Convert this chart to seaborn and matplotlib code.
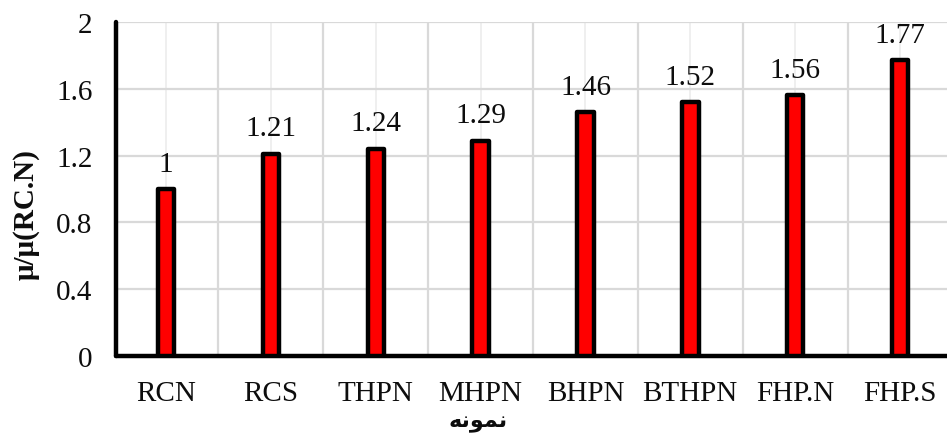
import matplotlib
matplotlib.use("Agg")
import matplotlib.pyplot as plt
import seaborn as sns
import pandas as pd

# Specimen names and normalised values
specimens = ["RCN", "RCS", "THPN", "MHPN", "BHPN", "BTHPN", "FHP.N", "FHP.S"]
ratios = [1.00, 1.21, 1.24, 1.29, 1.46, 1.52, 1.56, 1.77]
ratio_labels = ["1", "1.21", "1.24", "1.29", "1.46", "1.52", "1.56", "1.77"]
y_ticks = [0, 0.4, 0.8, 1.2, 1.6, 2.0]
y_tick_labels = ["0", "0.4", "0.8", "1.2", "1.6", "2"]
y_title = "μ/μ(RC.N)"
x_title = "نمونه"


def shape_arabic(word):
    """Join Arabic letters into their contextual forms, in visual order."""
    # letter: (isolated, final, initial, medial); None = does not join forward
    forms = {
        "ن": ("\uFEE5", "\uFEE6", "\uFEE7", "\uFEE8"),
        "م": ("\uFEE1", "\uFEE2", "\uFEE3", "\uFEE4"),
        "ه": ("\uFEE9", "\uFEEA", "\uFEEB", "\uFEEC"),
        "و": ("\uFEED", "\uFEEE", None, None),
    }
    out = []
    for i, ch in enumerate(word):
        f = forms[ch]
        prev_joins = i > 0 and forms[word[i - 1]][2] is not None
        next_joins = i < len(word) - 1 and f[2] is not None
        if prev_joins and next_joins:
            out.append(f[3])
        elif prev_joins:
            out.append(f[1])
        elif next_joins:
            out.append(f[2])
        else:
            out.append(f[0])
    return "".join(reversed(out))


df = pd.DataFrame({"specimen": specimens, "ratio": ratios})

sns.set_theme(style="white")
plt.rcParams["font.family"] = ["Liberation Serif", "DejaVu Sans"]

fig = plt.figure(figsize=(9.47, 4.39), dpi=100)
ax = fig.add_axes([116 / 947, 82 / 439, 831 / 947, 334 / 439])

sns.barplot(data=df, x="specimen", y="ratio", color="#ff0000", saturation=1,
            width=0.157, edgecolor="black", linewidth=3.2, ax=ax, zorder=3)
for p in ax.patches:
    p.set_joinstyle("round")

ax.bar_label(ax.containers[0], labels=ratio_labels, padding=9, fontsize=21,
             color="#0d0d0d")

ax.set_ylim(0, 2)
ax.set_xlim(-0.477, 7.448)
ax.set_yticks(y_ticks)
ax.set_yticklabels(y_tick_labels)
ax.set_xticks(range(len(specimens)))
ax.set_xticklabels(specimens)
ax.set_xticks([i + 0.5 for i in range(len(specimens) - 1)], minor=True)

ax.set_axisbelow(True)
ax.yaxis.grid(True, color="#d9d9d9", linewidth=1.6)
ax.xaxis.grid(True, which="minor", color="#d9d9d9", linewidth=1.6)
ax.xaxis.grid(True, which="major", color="#efefef", linewidth=1.4)

ax.tick_params(axis="both", which="both", length=0, labelsize=21,
               colors="#0d0d0d")
ax.tick_params(axis="y", pad=17)
ax.tick_params(axis="x", pad=17)

for side in ("top", "right"):
    ax.spines[side].set_visible(False)
for side in ("left", "bottom"):
    ax.spines[side].set_color("black")
    ax.spines[side].set_linewidth(3.2)
    ax.spines[side].set_capstyle("round")

ax.set_xlabel("")
ax.set_ylabel("")
fig.text(26 / 947, 1 - 215 / 439, y_title, rotation=90, ha="center",
         va="center", fontsize=21, fontweight="bold", color="#0d0d0d")
fig.text(478 / 947, 1 - 423 / 439, shape_arabic(x_title), ha="center",
         va="center", fontsize=16, fontweight="bold", color="#0d0d0d",
         family=["DejaVu Sans"])

fig.savefig("out.png", dpi=100)
